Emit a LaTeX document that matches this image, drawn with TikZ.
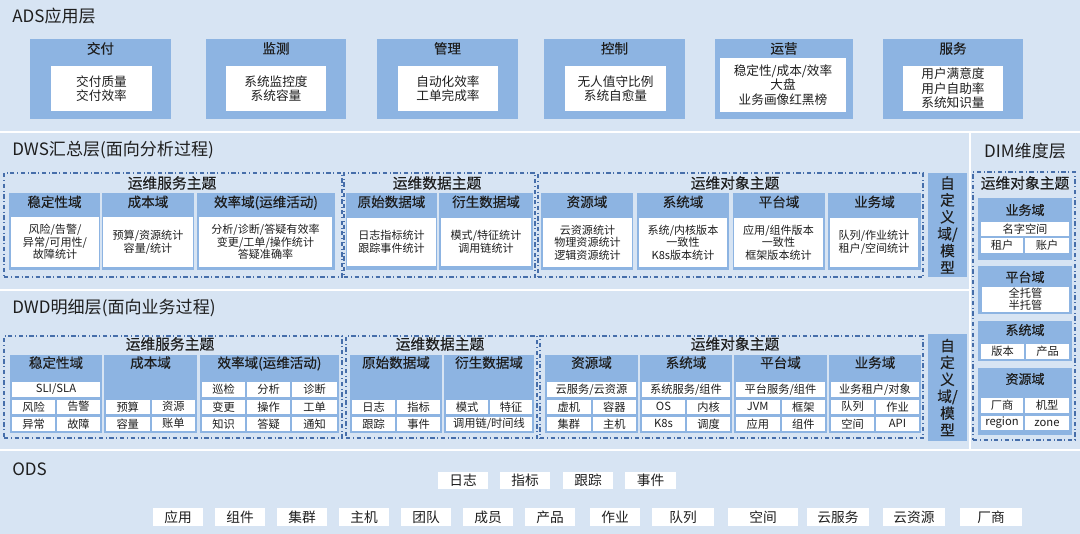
\documentclass[tikz,border=0pt]{standalone}
\usepackage{fontspec}
\setmainfont{Noto Sans CJK SC}
\newfontfamily\hdfont[FakeBold=0.35]{Noto Sans CJK SC}
\usepackage{xcolor}
\usetikzlibrary{positioning,fit}
\definecolor{bgblue}{HTML}{D7E4F3}
\definecolor{domblue}{HTML}{8DB4E2}
\definecolor{grpblue}{HTML}{466EAA}
\definecolor{inkc}{HTML}{1E1E1E}

\begin{document}
\begin{tikzpicture}[
  x=0.02cm,y=-0.02cm,
  every node/.append style={text=inkc},
  layt/.style={anchor=west,inner sep=0,font=\fontsize{9.7}{11}\selectfont},
  gtit/.style={inner sep=0,font=\hdfont\fontsize{8.4}{10}\selectfont},
  hd/.style={inner sep=0,font=\hdfont\fontsize{7.7}{9}\selectfont},
  dhd/.style={inner sep=0,font=\hdfont\fontsize{7.4}{9}\selectfont},
  grp/.style={draw=grpblue,line width=0.6pt,dash pattern=on 2.5pt off 1.5pt on 0.5pt off 1.5pt,inner sep=0},
  dom/.style={fill=domblue,inner sep=0},
  wbox/.style={fill=white,inner sep=0},
  awt/.style={inner sep=0,align=center,font=\fontsize{7.2}{8.3}\selectfont},
  wt/.style={inner sep=0,align=center,font=\fontsize{6.3}{7.2}\selectfont},
  clt/.style={inner sep=0,align=center,font=\fontsize{6.4}{6.9}\selectfont},
  oct/.style={inner sep=0,font=\fontsize{7.8}{9}\selectfont},
  cut/.style={inner sep=0,align=center,font=\hdfont\fontsize{8.3}{9.6}\selectfont},
  sepl/.style={draw=white,line width=1pt}
]
\useasboundingbox (0,0) rectangle (1080,534);
\fill[bgblue] (0,0) rectangle (1080,534);
\draw[sepl] (0,132) -- (1080,132);
\draw[sepl] (970,132) -- (970,450);
\draw[sepl] (0,290) -- (970,290);
\draw[sepl] (0,450) -- (1080,450);

% ADS
\node[layt] (adsT) at (12,16) {ADS应用层};
\node[dom,fit={(30,39)(171,119)}] (aJf) {};
\node[hd,below=1.8pt of aJf.north] (aJfH) {交付};
\node[wbox,fit={(51,66)(152,111)}] (aJfB) {};
\node[awt] (aJfT) at (aJfB) {交付质量\\交付效率};
\node[dom,fit={(206,39)(346,119)}] (aJc) {};
\node[hd,below=1.8pt of aJc.north] (aJcH) {监测};
\node[wbox,fit={(226,66)(326,111)}] (aJcB) {};
\node[awt] (aJcT) at (aJcB) {系统监控度\\系统容量};
\node[dom,fit={(377,39)(518,119)}] (aGl) {};
\node[hd,below=1.8pt of aGl.north] (aGlH) {管理};
\node[wbox,fit={(398,66)(498,111)}] (aGlB) {};
\node[awt] (aGlT) at (aGlB) {自动化效率\\工单完成率};
\node[dom,fit={(544,39)(685,119)}] (aKz) {};
\node[hd,below=1.8pt of aKz.north] (aKzH) {控制};
\node[wbox,fit={(565,66)(666,111)}] (aKzB) {};
\node[awt] (aKzT) at (aKzB) {无人值守比例\\系统自愈量};
\node[dom,fit={(715,39)(853,119)}] (aYy) {};
\node[hd,below=1.8pt of aYy.north] (aYyH) {运营};
\node[wbox,fit={(720,58)(846,112)}] (aYyB) {};
\node[awt] (aYyT) at (aYyB) {稳定性/成本/效率\\大盘\\业务画像红黑榜};
\node[dom,fit={(883,39)(1023,119)}] (aFw) {};
\node[hd,below=1.8pt of aFw.north] (aFwH) {服务};
\node[wbox,fit={(903,66)(1003,111)}] (aFwB) {};
\node[awt] (aFwT) at (aFwB) {用户满意度\\用户自助率\\系统知识量};

% DWS
\node[layt] (dwsT) at (12,150) {DWS汇总层(面向分析过程)};
\node[grp,fit={(4,173)(342,277)}] (sG1) {};
\node[gtit] (sG1T) at (172,183) {运维服务主题};
\node[dom,fit={(9,193)(100,270)}] (sSta) {};
\node[hd,below=1.5pt of sSta.north] (sStaH) {稳定性域};
\node[wbox,fit={(11,217)(99,267)}] (sStaB) {};
\node[wt] (sStaT) at (sStaB) {风险/告警/\\异常/可用性/\\故障统计};
\node[dom,fit={(102,193)(194,270)}] (sCb) {};
\node[hd,below=1.5pt of sCb.north] (sCbH) {成本域};
\node[wbox,fit={(103,217)(193,267)}] (sCbB) {};
\node[wt] (sCbT) at (sCbB) {预算/资源统计\\容量/统计};
\node[dom,fit={(197,193)(335,270)}] (sXl) {};
\node[hd,below=1.5pt of sXl.north] (sXlH) {效率域(运维活动)};
\node[wbox,fit={(199,217)(332,267)}] (sXlB) {};
\node[wt] (sXlT) at (sXlB) {分析/诊断/答疑有效率\\变更/工单/操作统计\\答疑准确率};

\node[grp,fit={(344,173)(535,277)}] (sG2) {};
\node[gtit] (sG2T) at (437,183) {运维数据主题};
\node[dom,fit={(346,193)(437,270)}] (sYs) {};
\node[hd,below=1.5pt of sYs.north] (sYsH) {原始数据域};
\node[wbox,fit={(347,218)(436,266)}] (sYsB) {};
\node[wt] (sYsT) at (sYsB) {日志指标统计\\跟踪事件统计};
\node[dom,fit={(439,193)(533,270)}] (sYsh) {};
\node[hd,below=1.5pt of sYsh.north] (sYshH) {衍生数据域};
\node[wbox,fit={(441,218)(531,266)}] (sYshB) {};
\node[wt] (sYshT) at (sYshB) {模式/特征统计\\调用链统计};

\node[grp,fit={(538,173)(923,277)}] (sG3) {};
\node[gtit] (sG3T) at (735,183) {运维对象主题};
\node[dom,fit={(541,193)(633,270)}] (sZy) {};
\node[hd,below=1.5pt of sZy.north] (sZyH) {资源域};
\node[wbox,fit={(543,218)(632,267)}] (sZyB) {};
\node[wt] (sZyT) at (sZyB) {云资源统计\\物理资源统计\\逻辑资源统计};
\node[dom,fit={(637,193)(729,270)}] (sXt) {};
\node[hd,below=1.5pt of sXt.north] (sXtH) {系统域};
\node[wbox,fit={(639,218)(727,267)}] (sXtB) {};
\node[wt] (sXtT) at (sXtB) {系统/内核版本\\一致性\\K8s版本统计};
\node[dom,fit={(733,193)(825,270)}] (sPt) {};
\node[hd,below=1.5pt of sPt.north] (sPtH) {平台域};
\node[wbox,fit={(734,218)(823,267)}] (sPtB) {};
\node[wt] (sPtT) at (sPtB) {应用/组件版本\\一致性\\框架版本统计};
\node[dom,fit={(828,193)(921,270)}] (sYw) {};
\node[hd,below=1.5pt of sYw.north] (sYwH) {业务域};
\node[wbox,fit={(830,218)(918,267)}] (sYwB) {};
\node[wt] (sYwT) at (sYwB) {队列/作业统计\\租户/空间统计};
\node[dom,fit={(928,173)(967,277)}] (sCus) {};
\node[cut] (sCusT) at (sCus) {自\\定\\义\\域/\\模\\型};

% DWD
\node[layt] (dwdT) at (12,308) {DWD明细层(面向业务过程)};
\node[grp,fit={(4,336)(342,438)}] (dG1) {};
\node[gtit] (dG1T) at (170,344) {运维服务主题};
\node[dom,fit={(10,355)(102,433)}] (dSta) {};
\node[hd,below=0.8pt of dSta.north] (dStaH) {稳定性域};
\node[wbox,fit={(12,382)(100,397)}] (dSli) {};
\node[clt] (dSliT) at (dSli) {SLI/SLA};
\node[wbox,fit={(12,399.5)(55,414)}] (dFx) {};
\node[clt] (dFxT) at (dFx) {风险};
\node[wbox,fit={(57,399.5)(100,414)}] (dGj) {};
\node[clt] (dGjT) at (dGj) {告警};
\node[wbox,fit={(12,416.5)(55,431)}] (dYc) {};
\node[clt] (dYcT) at (dYc) {异常};
\node[wbox,fit={(57,416.5)(100,431)}] (dGz) {};
\node[clt] (dGzT) at (dGz) {故障};
\node[dom,fit={(104,355)(197,433)}] (dCb) {};
\node[hd,below=0.8pt of dCb.north] (dCbH) {成本域};
\node[wbox,fit={(106,399.5)(149.5,414)}] (dYsu) {};
\node[clt] (dYsuT) at (dYsu) {预算};
\node[wbox,fit={(151.5,399.5)(195,414)}] (dZy) {};
\node[clt] (dZyT) at (dZy) {资源};
\node[wbox,fit={(106,416.5)(149.5,431)}] (dRl) {};
\node[clt] (dRlT) at (dRl) {容量};
\node[wbox,fit={(151.5,416.5)(195,431)}] (dZd) {};
\node[clt] (dZdT) at (dZd) {账单};
\node[dom,fit={(200,355)(339,433)}] (dXl) {};
\node[hd,below=0.8pt of dXl.north] (dXlH) {效率域(运维活动)};
\node[wbox,fit={(202,382)(245,397)}] (dXj) {};
\node[clt] (dXjT) at (dXj) {巡检};
\node[wbox,fit={(247,382)(290,397)}] (dFxi) {};
\node[clt] (dFxiT) at (dFxi) {分析};
\node[wbox,fit={(292,382)(337,397)}] (dZdu) {};
\node[clt] (dZduT) at (dZdu) {诊断};
\node[wbox,fit={(202,399.5)(245,414)}] (dBg) {};
\node[clt] (dBgT) at (dBg) {变更};
\node[wbox,fit={(247,399.5)(290,414)}] (dCz) {};
\node[clt] (dCzT) at (dCz) {操作};
\node[wbox,fit={(292,399.5)(337,414)}] (dGd) {};
\node[clt] (dGdT) at (dGd) {工单};
\node[wbox,fit={(202,416.5)(245,431)}] (dZs) {};
\node[clt] (dZsT) at (dZs) {知识};
\node[wbox,fit={(247,416.5)(290,431)}] (dDy) {};
\node[clt] (dDyT) at (dDy) {答疑};
\node[wbox,fit={(292,416.5)(337,431)}] (dTz) {};
\node[clt] (dTzT) at (dTz) {通知};

\node[grp,fit={(346,336)(537,438)}] (dG2) {};
\node[gtit] (dG2T) at (440,344) {运维数据主题};
\node[dom,fit={(350,355)(442,433)}] (dYs) {};
\node[hd,below=0.8pt of dYs.north] (dYsH) {原始数据域};
\node[wbox,fit={(352,399.5)(395,414)}] (dRz) {};
\node[clt] (dRzT) at (dRz) {日志};
\node[wbox,fit={(397,399.5)(440,414)}] (dZb) {};
\node[clt] (dZbT) at (dZb) {指标};
\node[wbox,fit={(352,416.5)(395,431)}] (dGzo) {};
\node[clt] (dGzoT) at (dGzo) {跟踪};
\node[wbox,fit={(397,416.5)(440,431)}] (dSj) {};
\node[clt] (dSjT) at (dSj) {事件};
\node[dom,fit={(444,355)(534,433)}] (dYsh) {};
\node[hd,below=0.8pt of dYsh.north] (dYshH) {衍生数据域};
\node[wbox,fit={(446,399.5)(488,414)}] (dMs) {};
\node[clt] (dMsT) at (dMs) {模式};
\node[wbox,fit={(490,399.5)(532,414)}] (dTzh) {};
\node[clt] (dTzhT) at (dTzh) {特征};
\node[wbox,fit={(446,416.5)(532,431)}] (dDyl) {};
\node[clt] (dDylT) at (dDyl) {调用链/时间线};

\node[grp,fit={(540,336)(923,438)}] (dG3) {};
\node[gtit] (dG3T) at (735,344) {运维对象主题};
\node[dom,fit={(545,355)(638,433)}] (dZyu) {};
\node[hd,below=0.8pt of dZyu.north] (dZyuH) {资源域};
\node[wbox,fit={(547,382)(636,397)}] (dYfw) {};
\node[clt] (dYfwT) at (dYfw) {云服务/云资源};
\node[wbox,fit={(547,399.5)(590.5,414)}] (dXjj) {};
\node[clt] (dXjjT) at (dXjj) {虚机};
\node[wbox,fit={(592.5,399.5)(636,414)}] (dRq) {};
\node[clt] (dRqT) at (dRq) {容器};
\node[wbox,fit={(547,416.5)(590.5,431)}] (dJq) {};
\node[clt] (dJqT) at (dJq) {集群};
\node[wbox,fit={(592.5,416.5)(636,431)}] (dZj) {};
\node[clt] (dZjT) at (dZj) {主机};
\node[dom,fit={(640,355)(732,433)}] (dXt) {};
\node[hd,below=0.8pt of dXt.north] (dXtH) {系统域};
\node[wbox,fit={(642,382)(730,397)}] (dXtfw) {};
\node[clt] (dXtfwT) at (dXtfw) {系统服务/组件};
\node[wbox,fit={(642,399.5)(685,414)}] (dOs) {};
\node[clt] (dOsT) at (dOs) {OS};
\node[wbox,fit={(687,399.5)(730,414)}] (dNh) {};
\node[clt] (dNhT) at (dNh) {内核};
\node[wbox,fit={(642,416.5)(685,431)}] (dKs) {};
\node[clt] (dKsT) at (dKs) {K8s};
\node[wbox,fit={(687,416.5)(730,431)}] (dDd) {};
\node[clt] (dDdT) at (dDd) {调度};
\node[dom,fit={(734,355)(827,433)}] (dPt) {};
\node[hd,below=0.8pt of dPt.north] (dPtH) {平台域};
\node[wbox,fit={(736,382)(825,397)}] (dPtfw) {};
\node[clt] (dPtfwT) at (dPtfw) {平台服务/组件};
\node[wbox,fit={(736,399.5)(779.5,414)}] (dJvm) {};
\node[clt] (dJvmT) at (dJvm) {JVM};
\node[wbox,fit={(781.5,399.5)(825,414)}] (dKj) {};
\node[clt] (dKjT) at (dKj) {框架};
\node[wbox,fit={(736,416.5)(779.5,431)}] (dYy) {};
\node[clt] (dYyT) at (dYy) {应用};
\node[wbox,fit={(781.5,416.5)(825,431)}] (dZjn) {};
\node[clt] (dZjnT) at (dZjn) {组件};
\node[dom,fit={(829,355)(921,433)}] (dYw) {};
\node[hd,below=0.8pt of dYw.north] (dYwH) {业务域};
\node[wbox,fit={(831,382)(919,397)}] (dYwzh) {};
\node[clt] (dYwzhT) at (dYwzh) {业务租户/对象};
\node[wbox,fit={(831,399.5)(874,414)}] (dDl) {};
\node[clt] (dDlT) at (dDl) {队列};
\node[wbox,fit={(876,399.5)(919,414)}] (dZye) {};
\node[clt] (dZyeT) at (dZye) {作业};
\node[wbox,fit={(831,416.5)(874,431)}] (dKjn) {};
\node[clt] (dKjnT) at (dKjn) {空间};
\node[wbox,fit={(876,416.5)(919,431)}] (dApi) {};
\node[clt] (dApiT) at (dApi) {API};
\node[dom,fit={(928,334)(967,441)}] (dCus) {};
\node[cut] (dCusT) at (dCus) {自\\定\\义\\域/\\模\\型};

% DIM
\node[layt,anchor=center] (dimT) at (1025,151) {DIM维度层};
\node[grp,fit={(973,172)(1075,440)}] (mG) {};
\node[gtit] (mGT) at (1025,183) {运维对象主题};
\node[dom,fit={(978,198)(1072,260)}] (mYw) {};
\node[dhd] (mYwH) at (1025,210) {业务域};
\node[wbox,fit={(981,222)(1069,236)}] (mMz) {};
\node[clt] (mMzT) at (mMz) {名字空间};
\node[wbox,fit={(981,238)(1023,253)}] (mZh) {};
\node[clt] (mZhT) at (mZh) {租户};
\node[wbox,fit={(1025,238)(1069,253)}] (mZhu) {};
\node[clt] (mZhuT) at (mZhu) {账户};
\node[dom,fit={(978,266)(1072,314)}] (mPt) {};
\node[dhd] (mPtH) at (1025,277) {平台域};
\node[wbox,fit={(982,287)(1069,312)}] (mTg) {};
\node[clt] (mTgT) at (mTg) {全托管\\半托管};
\node[dom,fit={(978,321)(1072,361)}] (mXt) {};
\node[dhd] (mXtH) at (1025,330) {系统域};
\node[wbox,fit={(981,344)(1024,359)}] (mBb) {};
\node[clt] (mBbT) at (mBb) {版本};
\node[wbox,fit={(1026,344)(1069,359)}] (mCp) {};
\node[clt] (mCpT) at (mCp) {产品};
\node[dom,fit={(978,368)(1072,435)}] (mZy) {};
\node[dhd] (mZyH) at (1025,379) {资源域};
\node[wbox,fit={(981,398)(1023,413)}] (mCs) {};
\node[clt] (mCsT) at (mCs) {厂商};
\node[wbox,fit={(1025,398)(1069,413)}] (mJx) {};
\node[clt] (mJxT) at (mJx) {机型};
\node[wbox,fit={(981,416)(1023,430)}] (mRg) {};
\node[clt] (mRgT) at (mRg) {region};
\node[wbox,fit={(1025,416)(1069,430)}] (mZn) {};
\node[clt] (mZnT) at (mZn) {zone};

% ODS
\node[layt] (odsT) at (12,469) {ODS};
\node[wbox,fit={(438,472)(488,489)}] (oRz) {};
\node[oct] (oRzT) at (oRz) {日志};
\node[wbox,fit={(500,472)(550,489)}] (oZb) {};
\node[oct] (oZbT) at (oZb) {指标};
\node[wbox,fit={(563,472)(613,489)}] (oGz) {};
\node[oct] (oGzT) at (oGz) {跟踪};
\node[wbox,fit={(625,472)(676,489)}] (oSj) {};
\node[oct] (oSjT) at (oSj) {事件};
\node[wbox,fit={(153,508)(203,526)}] (oYy) {};
\node[oct] (oYyT) at (oYy) {应用};
\node[wbox,fit={(215,508)(265,526)}] (oZj) {};
\node[oct] (oZjT) at (oZj) {组件};
\node[wbox,fit={(277,508)(327,526)}] (oJq) {};
\node[oct] (oJqT) at (oJq) {集群};
\node[wbox,fit={(339,508)(389,526)}] (oZjh) {};
\node[oct] (oZjhT) at (oZjh) {主机};
\node[wbox,fit={(401,508)(451,526)}] (oTd) {};
\node[oct] (oTdT) at (oTd) {团队};
\node[wbox,fit={(463,508)(513,526)}] (oCy) {};
\node[oct] (oCyT) at (oCy) {成员};
\node[wbox,fit={(525,508)(575,526)}] (oCp) {};
\node[oct] (oCpT) at (oCp) {产品};
\node[wbox,fit={(590,508)(640,526)}] (oZy) {};
\node[oct] (oZyT) at (oZy) {作业};
\node[wbox,fit={(652,508)(714,526)}] (oDl) {};
\node[oct] (oDlT) at (oDl) {队列};
\node[wbox,fit={(728,508)(798,526)}] (oKj) {};
\node[oct] (oKjT) at (oKj) {空间};
\node[wbox,fit={(807,508)(869,526)}] (oYfw) {};
\node[oct] (oYfwT) at (oYfw) {云服务};
\node[wbox,fit={(883,508)(945,526)}] (oYzy) {};
\node[oct] (oYzyT) at (oYzy) {云资源};
\node[wbox,fit={(960,508)(1022,526)}] (oCs) {};
\node[oct] (oCsT) at (oCs) {厂商};
\end{tikzpicture}
\end{document}
